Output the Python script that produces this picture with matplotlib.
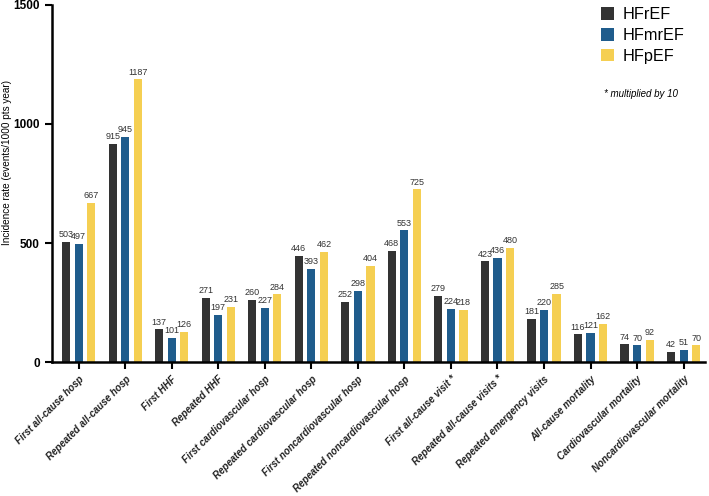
import matplotlib.pyplot as plt
import numpy as np

plt.rcParams['font.family'] = ['Liberation Sans', 'DejaVu Sans']

categories = ['First all-cause hosp', 'Repeated all-cause hosp', 'First HHF', 'Repeated HHF',
              'First cardiovascular hosp', 'Repeated cardiovascular hosp',
              'First noncardiovascular hosp', 'Repeated noncardiovascular hosp',
              'First all-cause visit *', 'Repeated all-cause visits *',
              'Repeated emergency visits', 'All-cause mortality',
              'Cardiovascular mortality', 'Noncardiovascular mortality']
hfref = [503, 915, 137, 271, 260, 446, 252, 468, 279, 423, 181, 116, 74, 42]
hfmref = [497, 945, 101, 197, 227, 393, 298, 553, 224, 436, 220, 121, 70, 51]
hfpef = [667, 1187, 126, 231, 284, 462, 404, 725, 218, 480, 285, 162, 92, 70]
series = ['HFrEF', 'HFmrEF', 'HFpEF']
colors = ['#333333', '#1f5c8c', '#f5cf52']

fig = plt.figure(figsize=(7.09, 4.96), dpi=100)
ax = fig.add_axes([0.073, 0.27, 0.922, 0.72])

x = np.arange(len(categories))
w = 0.175
off = 0.27
for i, (vals, name, c) in enumerate(zip([hfref, hfmref, hfpef], series, colors)):
    pos = x + (i - 1) * off
    ax.bar(pos, vals, w, color=c, label=name)
    for p, v in zip(pos, vals):
        ax.text(p, v + 12, str(v), ha='center', va='bottom', fontsize=6.5, color='#333333')

ax.set_xlim(-0.58, 13.47)
ax.set_ylim(0, 1500)
ax.set_yticks([0, 500, 1000, 1500])
ax.set_yticklabels(['0', '500', '1000', '1500'], fontweight='bold', fontsize=8.5)
ax.set_xticks(x)
ax.set_xticklabels(categories, rotation=45, ha='right', rotation_mode='anchor',
                   fontsize=7, style='italic', fontweight='bold', color='#222222')
ax.set_ylabel('Incidence rate (events/1000 pts year)', fontsize=7.2)
ax.yaxis.set_label_coords(-0.061, 0.56)
for s in ['top', 'right']:
    ax.spines[s].set_visible(False)
for s in ['left', 'bottom']:
    ax.spines[s].set_linewidth(1.8)
ax.tick_params(width=1.5, length=5)

ax.legend(loc='upper left', bbox_to_anchor=(0.818, 1.035), frameon=False, fontsize=11.7,
          handlelength=0.8, handleheight=0.8, handletextpad=0.5, labelspacing=0.36)
ax.text(0.845, 0.743, '* multiplied by 10', transform=ax.transAxes, fontsize=7, style='italic')

fig.savefig('out.png')
